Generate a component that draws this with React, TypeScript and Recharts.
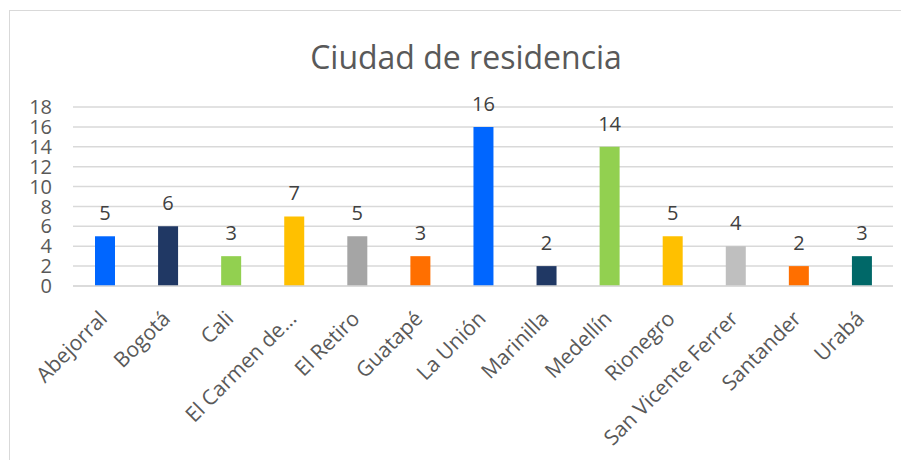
import { BarChart, Bar, XAxis, YAxis, CartesianGrid, Cell, LabelList } from 'recharts'

const cities = [
  'Abejorral',
  'Bogotá',
  'Cali',
  'El Carmen de…',
  'El Retiro',
  'Guatapé',
  'La Unión',
  'Marinilla',
  'Medellín',
  'Rionegro',
  'San Vicente Ferrer',
  'Santander',
  'Urabá',
]
const counts = [5, 6, 3, 7, 5, 3, 16, 2, 14, 5, 4, 2, 3]
const barColors = [
  '#0066FF',
  '#203864',
  '#92D050',
  '#FFC000',
  '#A5A5A5',
  '#FF6F00',
  '#0066FF',
  '#203864',
  '#92D050',
  '#FFC000',
  '#BFBFBF',
  '#FF6F00',
  '#006868',
]
const yTicks = [0, 2, 4, 6, 8, 10, 12, 14, 16, 18]

const data = cities.map((city, i) => ({ city, count: counts[i] }))

const font = '"Open Sans", sans-serif'

function CityTick({ x, y, payload }: any) {
  const tx = x + 4
  const ty = y + 26
  return (
    <text
      x={tx}
      y={ty}
      transform={`rotate(-45, ${tx}, ${ty})`}
      textAnchor="end"
      fill="#595959"
      fontSize={21}
      fontFamily={font}
    >
      {payload.value}
    </text>
  )
}

export default function App() {
  return (
    <div style={{ position: 'relative', width: 901, height: 452, overflow: 'hidden', background: '#fff' }}>
      <div
        style={{
          position: 'absolute',
          left: 1,
          top: 2,
          width: 1000,
          height: 600,
          borderLeft: '1.5px solid #d9d9d9',
          borderTop: '1.5px solid #d9d9d9',
        }}
      />
      <div
        style={{
          position: 'absolute',
          left: 258,
          width: 400,
          top: 29,
          textAlign: 'center',
          fontFamily: font,
          fontSize: 32,
          color: '#595959',
          lineHeight: '40px',
        }}
      >
        Ciudad de residencia
      </div>
      <BarChart
        width={901}
        height={452}
        data={data}
        margin={{ top: 99, right: 16, left: 10, bottom: 0 }}
        barSize={20}
      >
        <CartesianGrid vertical={false} stroke="#d9d9d9" strokeWidth={1.5} />
        <YAxis
          width={55}
          domain={[0, 18]}
          ticks={yTicks}
          axisLine={false}
          tickLine={false}
          interval={0}
          tick={{ fill: '#595959', fontSize: 20, fontFamily: font, dx: -13 }}
        />
        <XAxis
          dataKey="city"
          height={174}
          interval={0}
          axisLine={{ stroke: '#d9d9d9', strokeWidth: 1.5 }}
          tickLine={false}
          tick={<CityTick />}
        />
        <Bar dataKey="count" isAnimationActive={false}>
          {data.map((d, i) => (
            <Cell key={d.city} fill={barColors[i]} />
          ))}
          <LabelList
            dataKey="count"
            position="top"
            offset={16}
            fill="#404040"
            fontSize={20}
            fontFamily={font}
          />
        </Bar>
      </BarChart>
    </div>
  )
}
